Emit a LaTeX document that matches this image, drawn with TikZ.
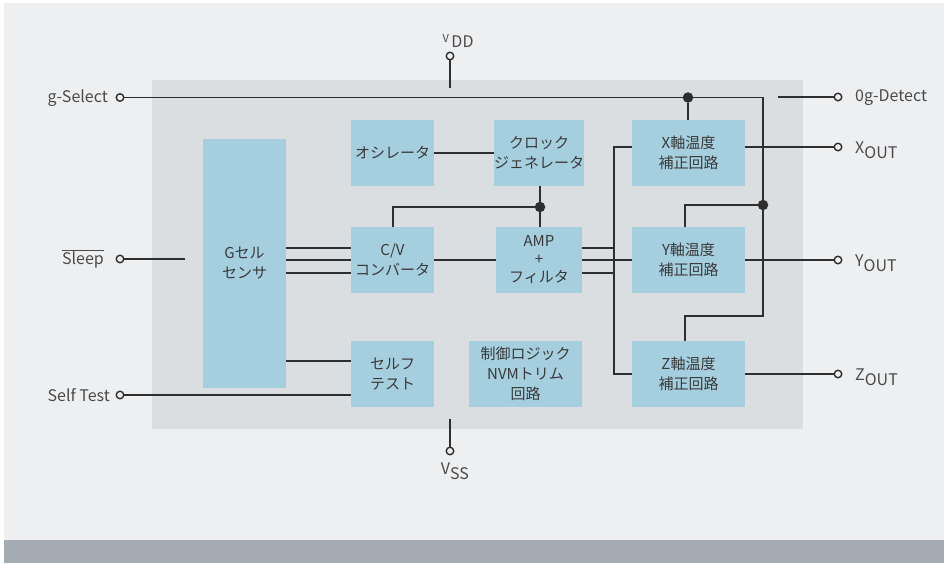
\documentclass[tikz,border=0pt]{standalone}
\usepackage{fontspec}
\setmainfont{Noto Sans CJK JP}
\definecolor{bgl}{HTML}{EEEFF1}
\definecolor{chip}{HTML}{DADEE1}
\definecolor{band}{HTML}{A4ABB3}
\definecolor{blk}{HTML}{A5CEDE}
\definecolor{wire}{HTML}{2E2E2E}
\definecolor{txt}{HTML}{4A4A4A}
\definecolor{btxt}{HTML}{3A3A3A}
\tikzset{
  blockbox/.style={fill=blk, inner sep=0pt, align=center, text=btxt,
    font=\fontsize{15}{20}\selectfont},
  wireline/.style={draw=wire, line width=1.6pt},
  pin/.style={circle, draw=wire, fill=bgl, line width=1.4pt, minimum size=7.5pt, inner sep=0pt},
  junction/.style={circle, fill=wire, minimum size=10.5pt, inner sep=0pt},
  lbl/.style={text=txt, inner sep=0pt, font=\fontsize{16}{18}\selectfont},
}
\begin{document}
\begin{tikzpicture}[x=1pt,y=-1pt]
\useasboundingbox (0,0) rectangle (944,563);
\fill[white] (0,0) rectangle (944,563);
\fill[bgl] (4,3) rectangle (944,540);
\fill[band] (4,540) rectangle (944,563);
\fill[chip] (152,80) rectangle (803,429);

% blocks
\node[blockbox, minimum width=83pt, minimum height=249pt] (gcell) at (244.5,263.5) {Gセル\\センサ};
\node[blockbox, minimum width=83pt, minimum height=66pt] (osc) at (392.5,153) {オシレータ};
\node[blockbox, minimum width=83pt, minimum height=66pt] (cv) at (392.5,260) {C/V\\コンバータ};
\node[blockbox, minimum width=83pt, minimum height=66pt] (self) at (392.5,374) {セルフ\\テスト};
\node[blockbox, minimum width=86pt, minimum height=66pt] (clk) at (539,153) {クロック\\ジェネレータ};
\node[blockbox, minimum width=86pt, minimum height=66pt, font=\fontsize{15}{18}\selectfont] (amp) at (539,260) {AMP\\+\\フィルタ};
\node[blockbox, minimum width=113pt, minimum height=66pt, font=\fontsize{15}{20}\selectfont] (ctrl) at (525.5,374) {制御ロジック\\NVMトリム\\回路};
\node[blockbox, minimum width=113pt, minimum height=66pt] (xb) at (688.5,153) {X軸温度\\補正回路};
\node[blockbox, minimum width=113pt, minimum height=66pt] (yb) at (688.5,260) {Y軸温度\\補正回路};
\node[blockbox, minimum width=113pt, minimum height=66pt] (zb) at (688.5,374) {Z軸温度\\補正回路};

% pins
\node[pin] (gsel) at (120,97.5) {};
\node[pin] (sleep) at (120,259) {};
\node[pin] (stest) at (120,395) {};
\node[pin] (vdd) at (450,56) {};
\node[pin] (vss) at (450,451) {};
\node[pin] (ogd) at (838,97) {};
\node[pin] (xout) at (838,147) {};
\node[pin] (yout) at (838,260) {};
\node[pin] (zout) at (838,374) {};

% free ends
\coordinate (vddend) at (450,88);
\coordinate (vssend) at (450,419);
\coordinate (ogdend) at (778,97);
\coordinate (sleepend) at (185,259);
\coordinate (rtop) at (763,97.5);
\coordinate (rbend) at (763,316);
\coordinate (cvtop) at (393,207);

% junctions
\node[junction] (j1) at (688,97.5) {};
\node[junction] (j2) at (763,205) {};
\node[junction] (j3) at (540,207) {};

% labels
\node[lbl, anchor=east] (lgsel) at (108,98) {g-Select};
\node[lbl, anchor=east] (lsleep) at (104,259) {$\overline{\mbox{Sleep}}$};
\node[lbl, anchor=east] (lstest) at (110,395) {Self Test};
\node[lbl, anchor=base] (lvdd) at (458,47) {\raisebox{5pt}{\fontsize{11}{11}\selectfont V}\,DD};
\node[lbl, anchor=base] (lvss) at (455,474) {V\raisebox{-5pt}{SS}};
\node[lbl, anchor=west] (logd) at (855,98) {0g-Detect};
\node[lbl, anchor=base west] (lxout) at (855,153) {X\raisebox{-5pt}{OUT}};
\node[lbl, anchor=base west] (lyout) at (855,266) {Y\raisebox{-5pt}{OUT}};
\node[lbl, anchor=base west] (lzout) at (855,380) {Z\raisebox{-5pt}{OUT}};

% wires
\begin{scope}[wireline]
\draw (gsel.east) -- (rtop) -- (rbend) -| ([xshift=-3.5pt]zb.north);
\draw (j1) -- (xb.north -| j1);
\draw (j2) -| ([xshift=-3.5pt]yb.north);
\draw (vdd.south) -- (vddend);
\draw (vssend) -- (vss.north);
\draw (ogdend) -- (ogd.west);
\draw (sleep.east) -- (sleepend);
\draw (stest.east) -- (self.west |- stest);
\draw ([yshift=-13pt]gcell.east |- cv.west) -- ([yshift=-13pt]cv.west);
\draw (gcell.east |- cv.west) -- (cv.west);
\draw ([yshift=12pt]gcell.east |- cv.west) -- ([yshift=12pt]cv.west);
\draw (gcell.east |- 0,361) -- (self.west |- 0,361);
\draw (osc.east) -- (clk.west);
\draw (cv.east) -- (amp.west);
\draw (clk.south -| j3) -- (amp.north -| j3);
\draw (cv.north -| cvtop) -- (cvtop) -- (j3);
\draw ([yshift=-13pt]amp.east) -| (614,147) -- (xb.west |- 0,147);
\draw (amp.east) -- (yb.west);
\draw ([yshift=12pt]amp.east) -| (614,374) -- (zb.west);
\draw (xb.east |- 0,147) -- (xout.west);
\draw (yb.east) -- (yout.west);
\draw (zb.east) -- (zout.west);
\end{scope}
\end{tikzpicture}
\end{document}
